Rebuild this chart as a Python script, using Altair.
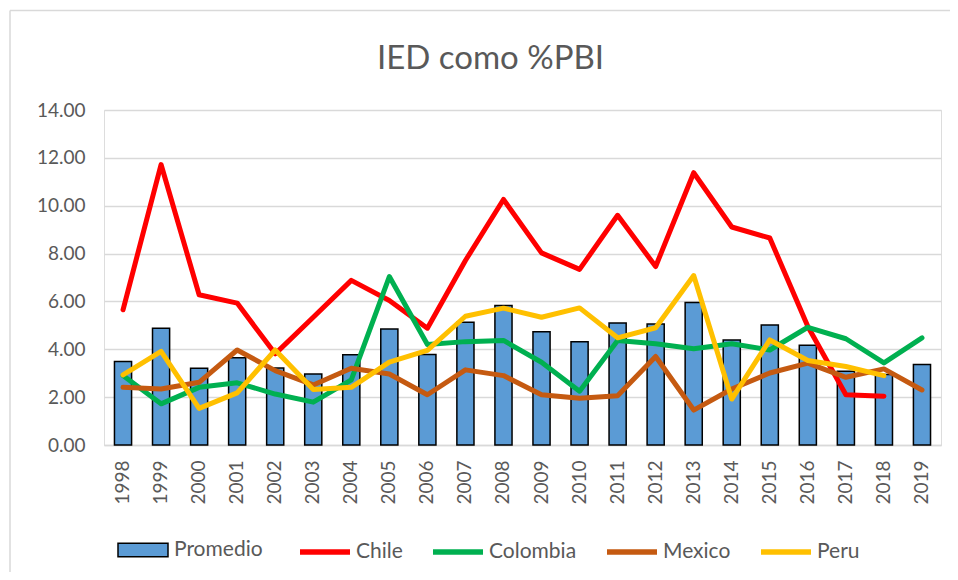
import altair as alt
import pandas as pd

years = list(range(1998, 2020))
promedio = [3.49, 4.88, 3.21, 3.65, 3.22, 2.97, 3.77, 4.85, 3.78, 5.13, 5.83,
            4.73, 4.31, 5.10, 5.06, 5.96, 4.39, 5.02, 4.17, 3.08, 2.95, 3.36]
chile = [5.65, 11.72, 6.28, 5.93, 3.81, 5.34, 6.88, 6.04, 4.88, 7.71, 10.26,
         8.03, 7.34, 9.60, 7.46, 11.38, 9.11, 8.65, 4.95, 2.10, 2.04, None]
colombia = [2.90, 1.72, 2.41, 2.60, 2.13, 1.79, 2.72, 7.04, 4.20, 4.32, 4.37,
            3.46, 2.25, 4.37, 4.23, 4.02, 4.23, 3.97, 4.92, 4.44, 3.43, 4.48]
mexico = [2.41, 2.34, 2.62, 3.97, 3.11, 2.51, 3.21, 2.97, 2.10, 3.14, 2.90,
          2.10, 1.95, 2.06, 3.70, 1.46, 2.34, 3.01, 3.42, 2.83, 3.18, 2.30]
peru = [2.93, 3.91, 1.53, 2.18, 3.97, 2.32, 2.41, 3.46, 3.95, 5.38, 5.72,
        5.34, 5.73, 4.48, 4.90, 7.08, 1.92, 4.39, 3.53, 3.28, 2.90, None]

y_ticks = [0, 2, 4, 6, 8, 10, 12, 14]
countries = ["Chile", "Colombia", "Mexico", "Peru"]
country_colors = ["#FF0000", "#00B050", "#C55A11", "#FFC000"]

bars_df = pd.DataFrame({"year": years, "value": promedio, "serie": "Promedio"})
rows = []
for name, vals in zip(countries, [chile, colombia, mexico, peru]):
    for yr, v in zip(years, vals):
        if v is not None:
            rows.append({"year": yr, "value": v, "serie": name})
lines_df = pd.DataFrame(rows)

FONT = "Lato"
TXT = "#595959"
GRID = "#D9D9D9"

x_enc = alt.X(
    "year:O", title=None,
    scale=alt.Scale(paddingInner=0.55, paddingOuter=0.275),
    axis=alt.Axis(labelAngle=270, labelFont=FONT, labelFontSize=19,
                  labelColor=TXT, ticks=False, domainColor=GRID,
                  domainWidth=1.5, labelPadding=15),
)
y_enc = alt.Y(
    "value:Q", title=None,
    scale=alt.Scale(domain=[0, 14]),
    axis=alt.Axis(values=y_ticks, format=".2f", grid=True, gridColor=GRID,
                  gridWidth=1.5, domain=False, ticks=False, labelPadding=19,
                  labelFont=FONT, labelFontSize=19, labelColor=TXT),
)

bars = alt.Chart(bars_df).mark_bar(stroke="#000000", strokeWidth=1.5).encode(
    x=x_enc, y=y_enc,
    fill=alt.Fill("serie:N",
                  scale=alt.Scale(domain=["Promedio"], range=["#5B9BD5"]),
                  legend=alt.Legend(orient="none", legendX=13, legendY=414,
                                    title=None, direction="horizontal",
                                    symbolType="M-1,-0.27H1V0.27H-1Z",
                                    symbolSize=2500, symbolStrokeColor="#000000",
                                    symbolStrokeWidth=1.5, symbolFillColor="#5B9BD5",
                                    labelFont=FONT, labelFontSize=21,
                                    labelColor=TXT, labelOffset=5, padding=0)),
)

lines = alt.Chart(lines_df).mark_line(strokeWidth=5, strokeCap="round",
                                      strokeJoin="round").encode(
    x=x_enc, y=y_enc,
    stroke=alt.Stroke("serie:N",
                      scale=alt.Scale(domain=countries, range=country_colors),
                      legend=alt.Legend(orient="none", legendX=193, legendY=414,
                                        title=None, direction="horizontal",
                                        symbolType="stroke", symbolSize=2500,
                                        symbolStrokeWidth=5.5,
                                        labelFont=FONT, labelFontSize=21,
                                        labelColor=TXT, labelOffset=3,
                                        columnPadding=19, padding=0)),
)

frame_df = pd.DataFrame({"k": [0]})
top_rule = alt.Chart(frame_df).mark_rule(color=GRID, strokeWidth=1.5).encode(
    x=alt.value(-94), x2=alt.value(846), y=alt.value(-99.5))
left_rule = alt.Chart(frame_df).mark_rule(color=GRID, strokeWidth=1.5).encode(
    x=alt.value(-94), y=alt.value(-99.5), y2=alt.value(470))

chart = alt.layer(top_rule, left_rule, bars, lines).resolve_scale(
    fill="independent", stroke="independent"
).properties(
    width=837, height=335,
    title=alt.TitleParams(text="IED como %PBI", font=FONT, fontSize=33,
                          fontWeight="normal", color=TXT, anchor="middle",
                          frame="group", dx=-32, offset=-92,
                          baseline="alphabetic"),
    autosize=alt.AutoSizeParams(type="none"),
    padding={"left": 96, "top": 102, "right": 9, "bottom": 127},
).configure_view(stroke=None).configure(background="white")

chart.save("out.html", embed_options={"renderer": "svg", "actions": False})
